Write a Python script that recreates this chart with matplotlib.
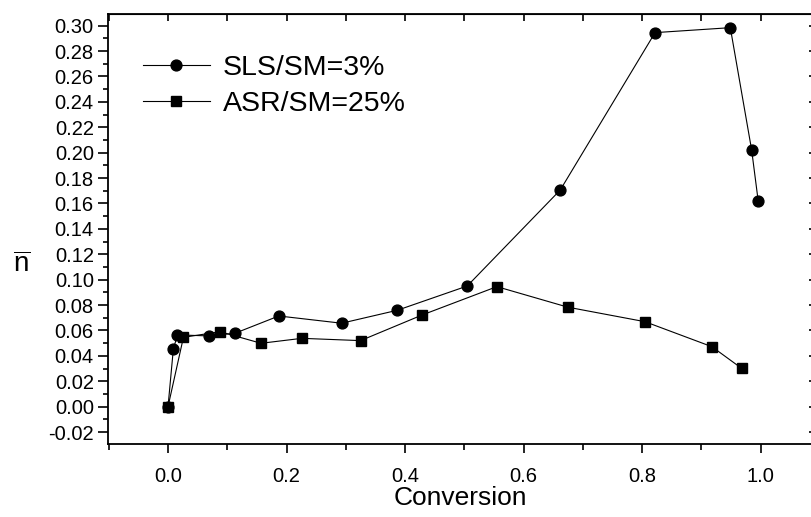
import matplotlib
matplotlib.use("Agg")
import matplotlib.pyplot as plt
from matplotlib.ticker import MultipleLocator

plt.rcParams['font.family'] = ['Liberation Sans', 'DejaVu Sans']
plt.rcParams['mathtext.fontset'] = 'custom'
plt.rcParams['mathtext.rm'] = 'Liberation Sans'

# data
sls_conv = [0.0, 0.009, 0.016, 0.069, 0.113, 0.187, 0.293, 0.387, 0.505,
            0.662, 0.822, 0.949, 0.985, 0.996]
sls_n = [0.0, 0.0454, 0.0565, 0.0557, 0.0578, 0.0714, 0.0657, 0.0759, 0.095,
         0.1706, 0.2945, 0.2984, 0.2021, 0.1622]

asr_conv = [0.0, 0.026, 0.088, 0.157, 0.226, 0.325, 0.429, 0.555, 0.675,
            0.805, 0.918, 0.968]
asr_n = [0.0, 0.0546, 0.059, 0.0499, 0.0538, 0.052, 0.0722, 0.0945, 0.0783,
         0.0669, 0.0472, 0.0302]

labels = ["SLS/SM=3%", "ASR/SM=25%"]

fig = plt.figure(figsize=(8.11, 5.17), dpi=100)
ax = fig.add_axes([0.1328, 0.1412, 0.8697, 0.8318])

ax.plot(sls_conv, sls_n, color='black', lw=0.8, marker='o', ms=7.8, label=labels[0])
ax.plot(asr_conv, asr_n, color='black', lw=0.8, marker='s', ms=6.8, label=labels[1])

ax.set_xlim(-0.1018, 1.0886)
ax.set_ylim(-0.0294, 0.3092)

ax.xaxis.set_major_locator(MultipleLocator(0.2))
ax.xaxis.set_minor_locator(MultipleLocator(0.1))
ax.yaxis.set_major_locator(MultipleLocator(0.02))
ax.yaxis.set_minor_locator(MultipleLocator(0.01))
ax.xaxis.set_major_formatter(lambda v, p: "%.1f" % v)
ax.yaxis.set_major_formatter(lambda v, p: "%.2f" % v)

ax.tick_params(axis='x', which='major', direction='out', length=6.5, width=1.2,
               pad=10, labelsize=14.5)
ax.tick_params(axis='x', which='minor', direction='out', length=4, width=1.2)
ax.tick_params(axis='y', which='major', direction='out', length=7, width=1.2,
               pad=3, labelsize=14.5)
ax.tick_params(axis='y', which='minor', direction='out', length=3.5, width=1.2)

for s in ax.spines.values():
    s.set_linewidth(1.3)

top = ax.secondary_xaxis('top')
top.xaxis.set_major_locator(MultipleLocator(0.1))
top.tick_params(direction='in', length=5, width=1.2, labeltop=False)

right = ax.secondary_yaxis('right')
right.yaxis.set_major_locator(MultipleLocator(0.02))
right.tick_params(direction='in', length=3, width=1.2, labelright=False)

ax.set_xlabel("Conversion", fontsize=19, labelpad=0)
fig.text(22 / 811, 1 - 265 / 517, r'$\overline{\mathrm{n}}$', fontsize=20,
         ha='center', va='center')

ax.legend(loc='upper left', bbox_to_anchor=(0.05, 0.905), frameon=False,
          fontsize=20.5, handlelength=2.35, handletextpad=0.46, labelspacing=0.36,
          borderaxespad=0, borderpad=0)

fig.savefig("out.png", dpi=100)
